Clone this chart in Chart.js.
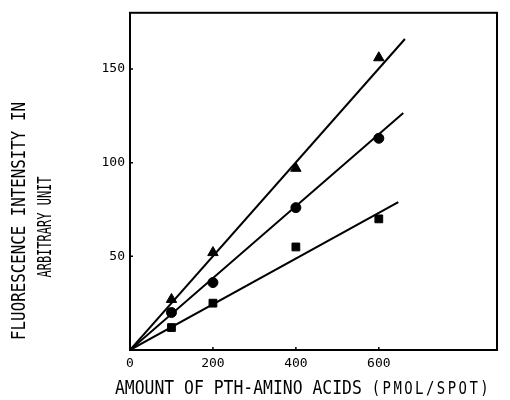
<!DOCTYPE html>
<html>
<head>
<meta charset="utf-8">
<script src="https://cdn.jsdelivr.net/npm/chart.js@4.4.1/dist/chart.umd.min.js"></script>
<style>
    html, body { margin: 0; padding: 0; background: #fff; }
    #wrap { width: 510px; height: 400px; }
</style>
</head>
<body>
<div id="wrap"><canvas id="chart"></canvas></div>
<script>
// amounts of PTH-amino acid (pmol/spot)
const amounts = [100, 200, 400, 600];

// fluorescence readings, one array per marker
const triangleValues = [27, 52, 97, 156];
const circleValues = [20, 36, 76, 113];
const squareValues = [12, 25, 55, 70];

// fitted lines (start and end points)
const triangleFitX = [0, 663];
const triangleFitY = [0, 166];
const circleFitX = [0, 659];
const circleFitY = [0, 126.5];
const squareFitX = [0, 647];
const squareFitY = [0, 79];

const xTicks = [0, 200, 400, 600];
const yTicks = [50, 100, 150];

const yTitleLines = ['FLUORESCENCE INTENSITY IN', 'ARBITRARY UNIT'];
const xTitleMain = 'AMOUNT OF PTH-AMINO ACIDS ';
const xTitleUnit = '(PMOL/SPOT)';

const monoFont = '"DejaVu Sans Mono", "Liberation Mono", monospace';

function toPoints(xs, ys) {
    return xs.map((x, i) => ({ x: x, y: ys[i] }));
}

function fitLine(xs, ys) {
    return {
        data: toPoints(xs, ys),
        showLine: true,
        borderColor: '#000',
        borderWidth: 2,
        pointRadius: 0,
        order: 2
    };
}

function markers(ys, style, radius) {
    return {
        data: toPoints(amounts, ys),
        showLine: false,
        pointStyle: style,
        pointRadius: radius,
        pointBackgroundColor: '#000',
        pointBorderColor: '#000',
        pointBorderWidth: 1,
        order: 1
    };
}

// frame, inward tick marks and the axis titles
const frameAndTitles = {
    id: 'frameAndTitles',
    afterDraw(chart) {
        const { ctx, chartArea: a, scales } = chart;
        ctx.save();
        ctx.strokeStyle = '#000';
        ctx.lineWidth = 2;
        ctx.strokeRect(a.left, a.top, a.right - a.left, a.bottom - a.top);

        ctx.lineWidth = 1.5;
        ctx.beginPath();
        xTicks.forEach(v => {
            if (v === 0) return;
            const px = scales.x.getPixelForValue(v);
            ctx.moveTo(px, a.bottom);
            ctx.lineTo(px, a.bottom - 3);
        });
        yTicks.forEach(v => {
            const py = scales.y.getPixelForValue(v);
            ctx.moveTo(a.left, py);
            ctx.lineTo(a.left + 3, py);
        });
        ctx.stroke();

        ctx.fillStyle = '#000';
        ctx.textBaseline = 'middle';
        ctx.textAlign = 'center';
        ctx.font = '20px ' + monoFont;
        const yTitlePos = [[20, 221, 0.79], [46, 227, 0.6]];
        yTitleLines.forEach((t, i) => {
            const [tx, ty, sx] = yTitlePos[i];
            ctx.save();
            ctx.translate(tx, ty);
            ctx.rotate(-Math.PI / 2);
            ctx.scale(sx, 1);
            ctx.fillText(t, 0, 0);
            ctx.restore();
        });

        ctx.save();
        ctx.translate(115, 389);
        ctx.scale(0.82, 1);
        ctx.textAlign = 'left';
        ctx.fillText(xTitleMain, 0, 0);
        const w = ctx.measureText(xTitleMain).width;
        ctx.font = '17px ' + monoFont;
        ctx.letterSpacing = '3px';
        ctx.fillText(xTitleUnit, w, 1);
        ctx.restore();

        ctx.restore();
    }
};

const chart = new Chart(document.getElementById('chart'), {
    type: 'scatter',
    data: {
        datasets: [
            fitLine(triangleFitX, triangleFitY),
            fitLine(circleFitX, circleFitY),
            fitLine(squareFitX, squareFitY),
            markers(triangleValues, 'triangle', 6),
            markers(circleValues, 'circle', 5),
            markers(squareValues, 'rect', 5.5)
        ]
    },
    options: {
        responsive: true,
        maintainAspectRatio: false,
        animation: false,
        layout: { padding: { left: 0, right: 13, top: 11, bottom: 0 } },
        plugins: {
            legend: { display: false },
            tooltip: { enabled: false }
        },
        scales: {
            x: {
                type: 'linear',
                min: 0,
                max: 885,
                grid: { display: false, drawTicks: false },
                border: { display: false },
                afterBuildTicks: scale => { scale.ticks = xTicks.map(v => ({ value: v })); },
                afterFit: scale => { scale.height = 50; },
                ticks: {
                    color: '#000',
                    padding: 6,
                    maxRotation: 0,
                    font: { family: monoFont, size: 13 }
                }
            },
            y: {
                type: 'linear',
                min: 0,
                max: 180,
                grid: { display: false, drawTicks: false },
                border: { display: false },
                afterBuildTicks: scale => { scale.ticks = yTicks.map(v => ({ value: v })); },
                afterFit: scale => { scale.width = 130; },
                ticks: {
                    color: '#000',
                    padding: 5,
                    font: { family: monoFont, size: 13 }
                }
            }
        }
    },
    plugins: [frameAndTitles]
});
</script>
</body>
</html>
